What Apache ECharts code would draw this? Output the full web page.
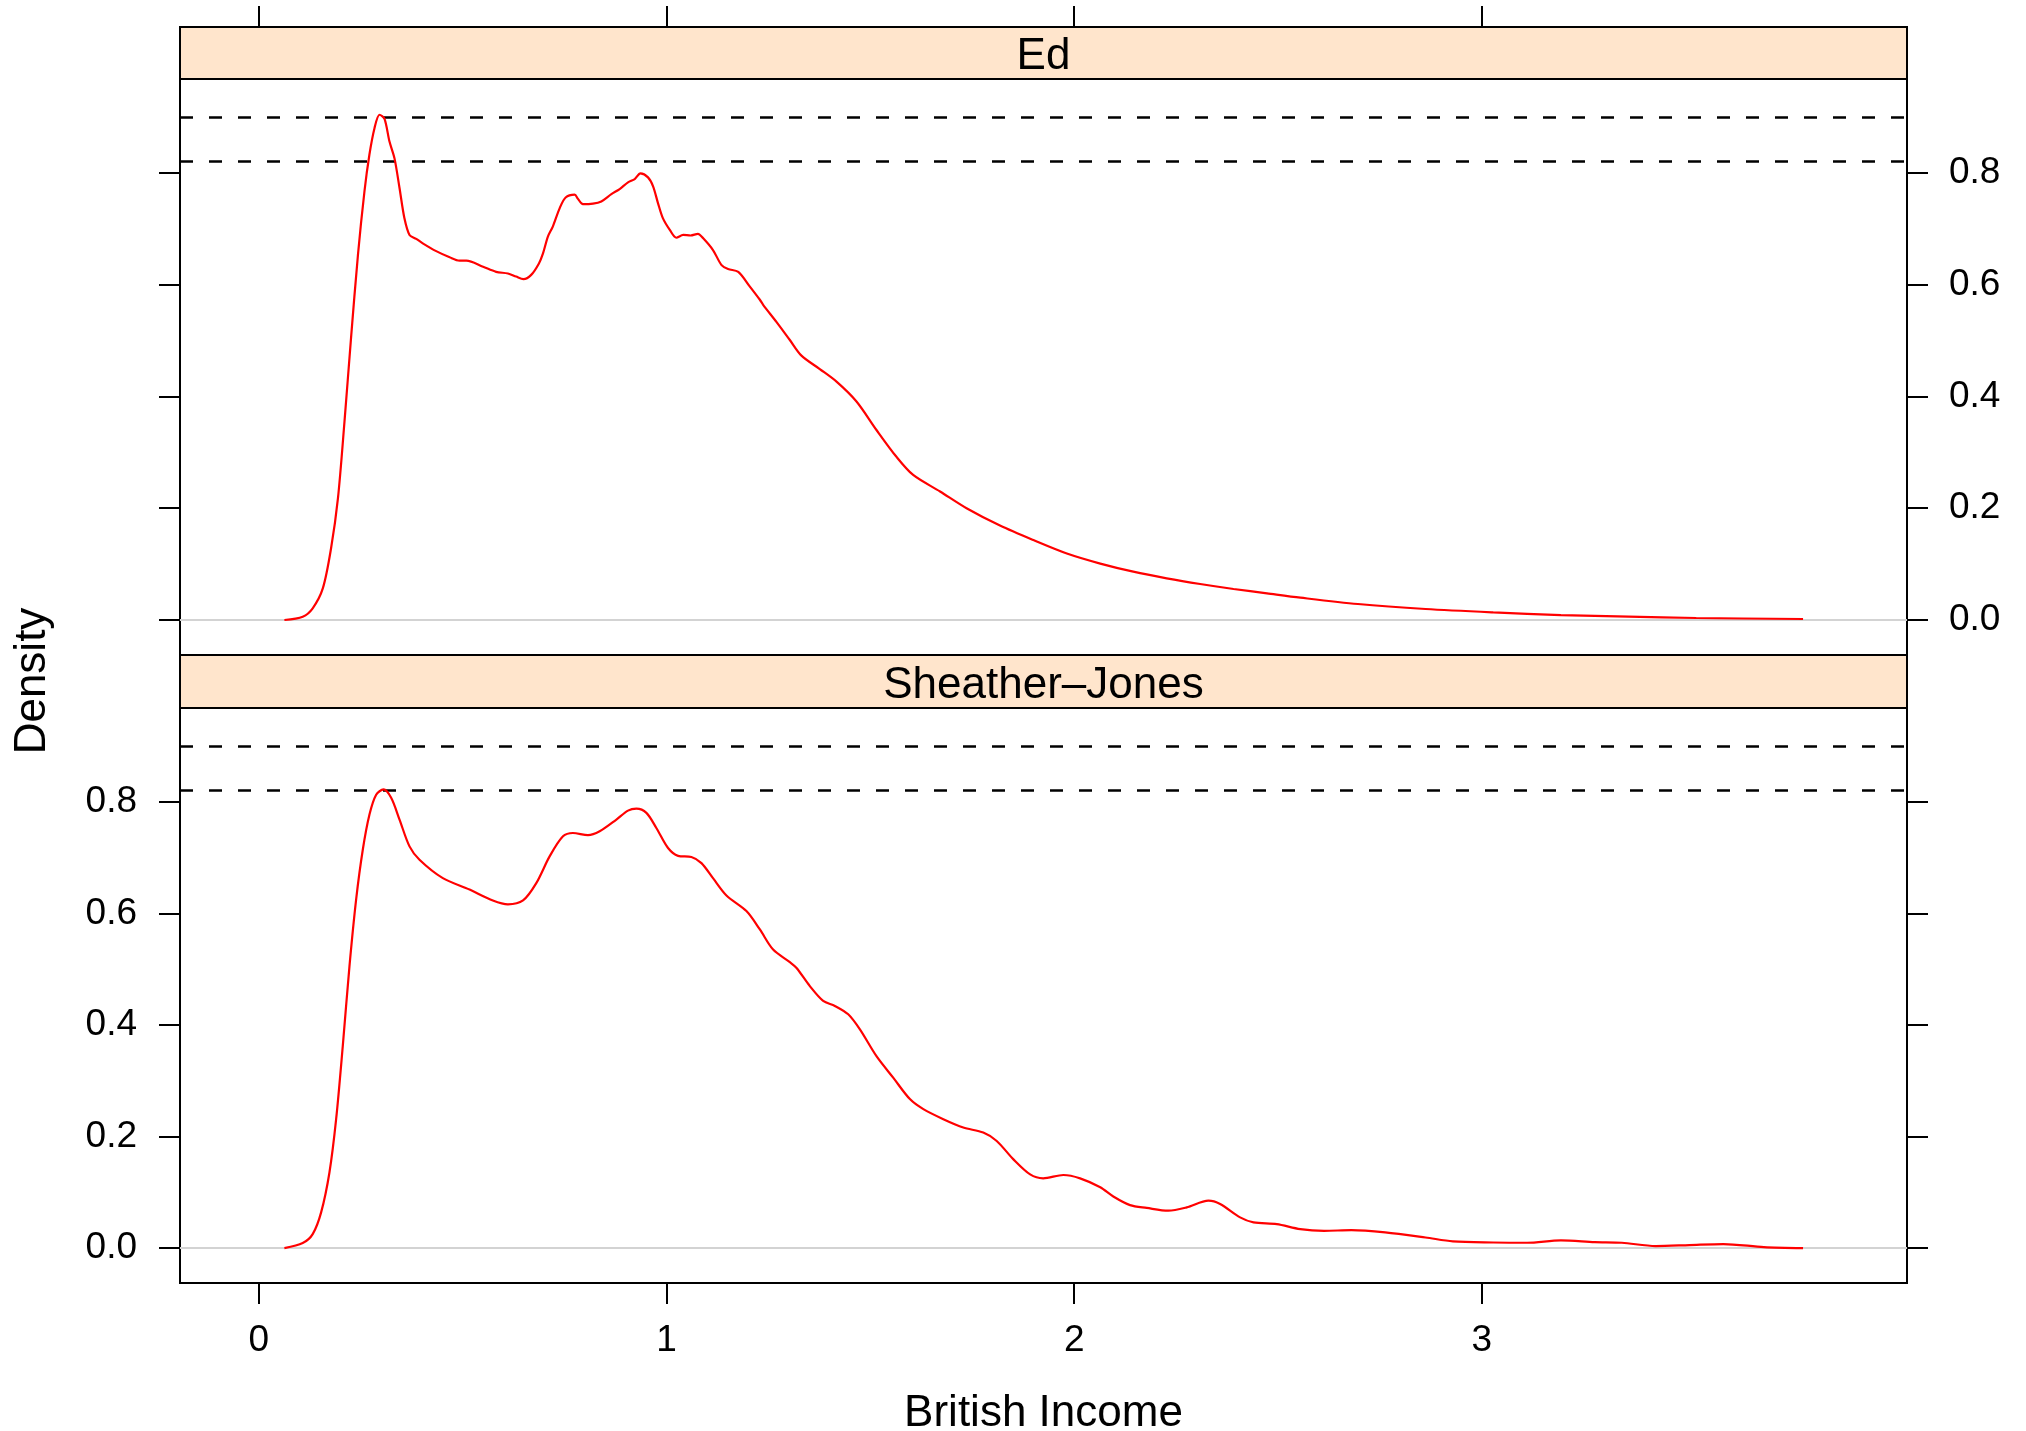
<!DOCTYPE html>
<html>
<head>
<meta charset="utf-8">
<title>Density of British Income</title>
<script src="https://cdn.jsdelivr.net/npm/echarts@6/dist/echarts.min.js"></script>
<style>
  html, body { margin: 0; padding: 0; background: #ffffff; }
  #chart { width: 2026px; height: 1431px; }
</style>
</head>
<body>
<div id="chart"></div>
<script>
// Kernel density estimates of British income, two bandwidth choices.
const incomeEd = [0.0626, 0.1076, 0.132, 0.157, 0.177, 0.194, 0.210, 0.226, 0.243, 0.259, 0.271, 0.2836,
  0.296, 0.308, 0.3204, 0.3327, 0.345, 0.357, 0.3695, 0.386, 0.402, 0.435, 0.468, 0.492, 0.509, 0.550,
  0.582, 0.611, 0.631, 0.649, 0.668, 0.687, 0.697, 0.709, 0.721, 0.738, 0.7525, 0.7746, 0.7828, 0.795,
  0.8196, 0.840, 0.8647, 0.885, 0.9055, 0.922, 0.936, 0.9546, 0.967, 0.979, 0.991, 1.008, 1.024, 1.041,
  1.059, 1.077, 1.090, 1.114, 1.135, 1.151, 1.176, 1.204, 1.229, 1.237, 1.270, 1.3025, 1.331, 1.376,
  1.417, 1.466, 1.515, 1.564, 1.605, 1.671, 1.736, 1.818, 1.900, 1.982, 2.064, 2.145, 2.227, 2.309,
  2.391, 2.473, 2.555, 2.696, 2.862, 3.028, 3.194, 3.360, 3.526, 3.788];
const densityEd = [0, 0.006, 0.021, 0.057, 0.128, 0.218, 0.355, 0.504, 0.653, 0.767, 0.832, 0.880,
  0.904, 0.897, 0.856, 0.826, 0.773, 0.719, 0.689, 0.682, 0.674, 0.660, 0.649, 0.643, 0.643, 0.632,
  0.623, 0.620, 0.6145, 0.610, 0.6175, 0.638, 0.656, 0.686, 0.704, 0.737, 0.756, 0.761, 0.7535, 0.744,
  0.745, 0.749, 0.762, 0.771, 0.783, 0.789, 0.799, 0.792, 0.776, 0.746, 0.719, 0.698, 0.684, 0.689,
  0.688, 0.691, 0.683, 0.662, 0.635, 0.628, 0.623, 0.597, 0.573, 0.564, 0.533, 0.501, 0.473, 0.449,
  0.4265, 0.391, 0.340, 0.292, 0.2595, 0.230, 0.200, 0.169, 0.143, 0.119, 0.101, 0.0865, 0.0746, 0.0644,
  0.0555, 0.0477, 0.040, 0.0286, 0.0197, 0.0137, 0.0089, 0.006, 0.0036, 0.0018];

const incomeSJ = [0.0626, 0.1076, 0.132, 0.1527, 0.173, 0.1895, 0.2058, 0.2222, 0.2386, 0.2549, 0.2713,
  0.2877, 0.3057, 0.3245, 0.345, 0.3695, 0.394, 0.4513, 0.5168, 0.574, 0.611, 0.648, 0.6805, 0.7132,
  0.746, 0.7705, 0.8073, 0.836, 0.877, 0.9055, 0.926, 0.9506, 0.975, 1.0037, 1.0283, 1.061, 1.0857,
  1.114, 1.147, 1.196, 1.229, 1.2615, 1.3025, 1.319, 1.3516, 1.3843, 1.413, 1.4457, 1.4744, 1.515,
  1.556, 1.597, 1.630, 1.679, 1.728, 1.777, 1.810, 1.851, 1.892, 1.924, 1.9735, 2.0145, 2.064, 2.096,
  2.137, 2.178, 2.231, 2.276, 2.3295, 2.358, 2.407, 2.440, 2.497, 2.5546, 2.613, 2.680, 2.763, 2.862,
  2.929, 3.028, 3.111, 3.194, 3.277, 3.3435, 3.4265, 3.5095, 3.5925, 3.692, 3.788];
const densitySJ = [0, 0.009, 0.025, 0.064, 0.135, 0.231, 0.362, 0.505, 0.625, 0.714, 0.777,
  0.8125, 0.822, 0.807, 0.768, 0.720, 0.696, 0.663, 0.6425, 0.623, 0.616, 0.623, 0.654, 0.702,
  0.738, 0.744, 0.740, 0.747, 0.768, 0.784, 0.7875, 0.780, 0.753, 0.717, 0.703, 0.701, 0.690,
  0.663, 0.632, 0.604, 0.571, 0.535, 0.5125, 0.502, 0.4695, 0.443, 0.434, 0.419, 0.392, 0.344,
  0.3055, 0.267, 0.249, 0.231, 0.216, 0.207, 0.192, 0.159, 0.132, 0.125, 0.131, 0.125, 0.109, 0.0925,
  0.077, 0.072, 0.067, 0.073, 0.085, 0.079, 0.055, 0.046, 0.043, 0.034, 0.031, 0.032, 0.028, 0.019,
  0.012, 0.010, 0.0095, 0.0137, 0.0107, 0.0095, 0.0036, 0.0054, 0.0072, 0.0018, 0];

const panelNames = ['Ed', 'Sheather\u2013Jones'];
const xTicks = [0, 1, 2, 3];
const yTicks = [0, 0.2, 0.4, 0.6, 0.8];
const xRange = [-0.1935, 4.043];
const yRange = [-0.0626, 0.968];

// page layout (pixels)
const FONT = '"Liberation Sans", Arial, Helvetica, sans-serif';
const LEFT = 180, RIGHT = 1907;
const panels = [
  { stripTop: 27, top: 79, bottom: 655 },
  { stripTop: 655, top: 708, bottom: 1283 }
];
const TICK_LEN = 21;
const LINE_W = 2;

const zip = (xs, ys) => xs.map((x, i) => [x, ys[i]]);
const peakEd = Math.max.apply(null, densityEd);
const peakSJ = Math.max.apply(null, densitySJ);

const tickStyle = { show: true, inside: false, length: TICK_LEN, lineStyle: { color: '#000', width: LINE_W } };
const labelBase = { color: '#000', fontSize: 37, fontFamily: FONT };
const hiddenLine = { show: false, onZero: false };

function yAxisDef(gridIndex, position, withLabels, margin) {
  return {
    type: 'value', gridIndex, position, min: yRange[0], max: yRange[1],
    axisLine: hiddenLine,
    axisTick: Object.assign({}, tickStyle, { customValues: yTicks }),
    axisLabel: withLabels
      ? Object.assign({}, labelBase, { show: true, margin, customValues: yTicks, formatter: v => v.toFixed(1) })
      : { show: false },
    splitLine: { show: false }
  };
}

function refSeries(axisIndex, yAxisIndex) {
  return {
    type: 'line', xAxisIndex: axisIndex, yAxisIndex,
    data: [[xRange[0], 0], [xRange[1], 0]],
    showSymbol: false, silent: true, z: 2,
    lineStyle: { color: '#d3d3d3', width: 2 },
    emphasis: { disabled: true },
    markLine: {
      silent: true, symbol: ['none', 'none'], label: { show: false },
      emphasis: { disabled: true },
      lineStyle: { color: '#000', type: [13, 16], width: 2.5 },
      data: [{ yAxis: peakEd }, { yAxis: peakSJ }]
    }
  };
}

function curveSeries(name, axisIndex, yAxisIndex, xs, ys) {
  return {
    name, type: 'line', xAxisIndex: axisIndex, yAxisIndex,
    data: zip(xs, ys), showSymbol: false, smooth: 0.3, z: 5,
    lineStyle: { color: '#ff0000', width: 2.2 },
    emphasis: { disabled: true }
  };
}

const graphics = [];
panels.forEach((p, i) => {
  graphics.push({
    type: 'rect', z: 10,
    shape: { x: LEFT, y: p.stripTop, width: RIGHT - LEFT, height: p.top - p.stripTop },
    style: { fill: '#ffe5cc', stroke: '#000', lineWidth: LINE_W }
  });
  graphics.push({
    type: 'text', z: 11, x: (LEFT + RIGHT) / 2, y: (p.stripTop + p.top) / 2 + 4,
    style: { text: panelNames[i], fontSize: 44, fontFamily: FONT, fill: '#000', align: 'center', verticalAlign: 'middle' }
  });
});
graphics.push({
  type: 'text', z: 11, x: (LEFT + RIGHT) / 2, y: 1414,
  style: { text: 'British Income', fontSize: 44, fontFamily: FONT, fill: '#000', align: 'center', verticalAlign: 'middle' }
});
graphics.push({
  type: 'text', z: 11, x: 33, y: (panels[0].top + panels[1].bottom) / 2, rotation: Math.PI / 2,
  style: { text: 'Density', fontSize: 44, fontFamily: FONT, fill: '#000', align: 'center', verticalAlign: 'middle' }
});

const option = {
  animation: false,
  backgroundColor: '#ffffff',
  grid: panels.map(p => ({
    left: LEFT, top: p.top, width: RIGHT - LEFT, height: p.bottom - p.top,
    show: true, borderColor: '#000', borderWidth: LINE_W, backgroundColor: 'transparent', containLabel: false
  })),
  xAxis: [
    {
      type: 'value', gridIndex: 0, position: 'top', offset: panels[0].top - panels[0].stripTop,
      min: xRange[0], max: xRange[1],
      axisLine: hiddenLine,
      axisTick: Object.assign({}, tickStyle, { customValues: xTicks }),
      axisLabel: { show: false },
      splitLine: { show: false }
    },
    {
      type: 'value', gridIndex: 1, position: 'bottom',
      min: xRange[0], max: xRange[1],
      axisLine: hiddenLine,
      axisTick: Object.assign({}, tickStyle, { customValues: xTicks }),
      axisLabel: Object.assign({}, labelBase, { show: true, margin: 39, customValues: xTicks, formatter: v => String(v) }),
      splitLine: { show: false }
    }
  ],
  yAxis: [
    yAxisDef(0, 'right', true, 42),
    yAxisDef(0, 'left', false, 0),
    yAxisDef(1, 'left', true, 43),
    yAxisDef(1, 'right', false, 0)
  ],
  series: [
    refSeries(0, 0),
    curveSeries(panelNames[0], 0, 0, incomeEd, densityEd),
    refSeries(1, 2),
    curveSeries(panelNames[1], 1, 2, incomeSJ, densitySJ)
  ],
  graphic: graphics
};

const chart = echarts.init(document.getElementById('chart'), null, { renderer: 'canvas' });
chart.setOption(option);
</script>
</body>
</html>
